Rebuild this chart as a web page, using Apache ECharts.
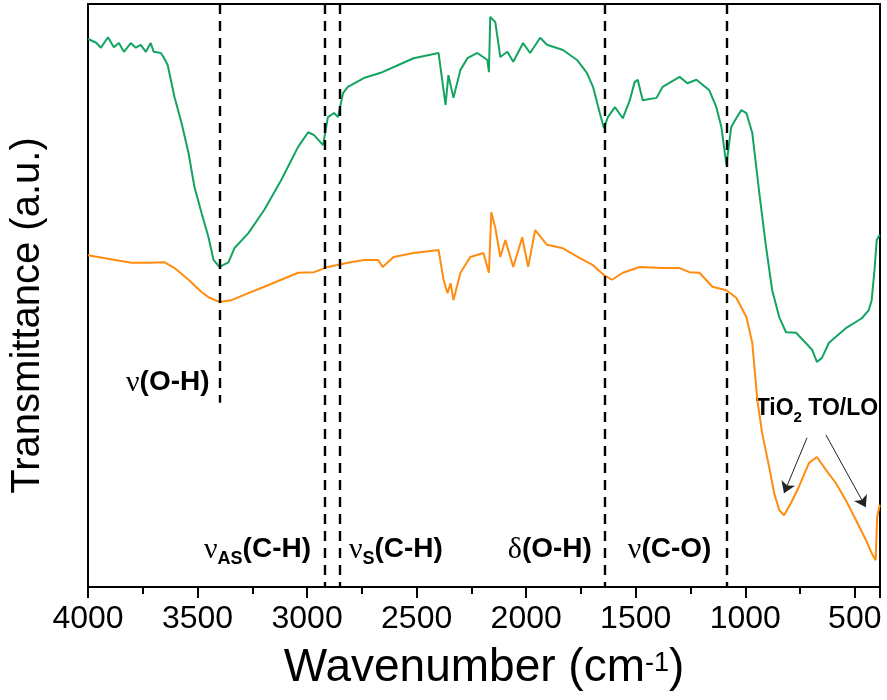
<!DOCTYPE html>
<html>
<head>
<meta charset="utf-8">
<title>FTIR</title>
<script src="https://cdn.jsdelivr.net/npm/echarts@6/dist/echarts.min.js"></script>
<style>
	html, body { margin: 0; padding: 0; background: #fff; }
	#chart { width: 887px; height: 700px; }
</style>
</head>
<body>
<div id="chart"></div>
<script>
// 녹색 스펙트럼 (wavenumber, transmittance a.u.)
let greenWn = [4000, 3995, 3964, 3941, 3909, 3882, 3859, 3836, 3805, 3782, 3759, 3736, 3714, 3700, 3668, 3655, 3636,
	3605, 3573, 3541, 3514, 3482, 3450, 3427, 3400, 3359, 3332, 3268, 3195, 3118, 3041, 2995, 2968, 2927, 2905,
	2877, 2859, 2836, 2814, 2741, 2664, 2586, 2514, 2400, 2368, 2355, 2332, 2300, 2268, 2223, 2177, 2170, 2164,
	2141, 2118, 2086, 2059, 2014, 1982, 1936, 1905, 1832, 1768, 1723, 1695, 1664, 1645, 1627, 1595, 1559, 1527,
	1505, 1491, 1468, 1405, 1377, 1300, 1264, 1223, 1164, 1132, 1109, 1086, 1064, 1041, 1018, 995, 968, 936,
	905, 877, 845, 814, 768, 695, 673, 650, 618, 541, 468, 436, 423, 410, 400, 386];
let greenT = [94.0, 93.9, 93.4, 92.5, 94.3, 92.6, 93.3, 91.8, 93.3, 92.5, 93.0, 91.8, 93.3, 91.8, 91.6, 90.9, 89.5,
	84.0, 79.6, 74.4, 68.6, 64.2, 60.0, 56.1, 54.9, 55.7, 58.1, 60.7, 64.7, 69.8, 75.5, 78.0, 77.5, 75.8, 80.6,
	81.3, 80.6, 84.7, 85.8, 87.3, 88.2, 89.5, 90.7, 91.6, 82.7, 87.8, 83.9, 88.7, 90.7, 91.6, 90.4, 88.3, 97.8,
	96.9, 90.9, 91.8, 90.1, 93.3, 91.6, 94.2, 93.0, 92.1, 90.4, 88.2, 85.8, 81.3, 78.7, 80.6, 82.3, 80.4, 83.5,
	86.6, 87.0, 83.5, 83.9, 85.8, 87.5, 86.4, 87.0, 85.2, 82.3, 78.9, 72.4, 78.9, 80.4, 81.8, 81.3, 77.9, 67.6,
	58.3, 50.9, 46.3, 43.7, 43.6, 40.7, 38.6, 39.3, 41.9, 44.4, 46.1, 47.5, 49.2, 54.4, 59.5, 60.4];

// 주황색 스펙트럼
let orangeWn = [4000, 3877, 3800, 3723, 3650, 3605, 3541, 3482, 3450, 3400, 3345, 3268, 3195, 3118, 3041, 2968,
	2905, 2814, 2741, 2677, 2655, 2605, 2514, 2400, 2377, 2359, 2345, 2332, 2300, 2255, 2195, 2170, 2159, 2141,
	2118, 2095, 2059, 2018, 1991, 1959, 1905, 1832, 1755, 1695, 1645, 1609, 1559, 1482, 1377, 1300, 1255, 1209,
	1150, 1086, 1041, 995, 968, 945, 923, 891, 868, 845, 823, 791, 755, 709, 673, 632, 586, 541, 495, 450, 423,
	405, 398, 386];
let orangeT = [56.9, 56.1, 55.6, 55.6, 55.7, 54.7, 52.7, 50.6, 49.7, 48.9, 49.2, 50.4, 51.5, 52.7, 53.9, 54.0,
	54.9, 55.6, 56.1, 56.1, 54.9, 56.6, 57.3, 57.8, 52.7, 50.4, 52.1, 49.2, 53.9, 56.6, 57.3, 53.9, 64.3, 61.6,
	56.6, 59.5, 54.9, 60.0, 54.9, 61.2, 58.7, 58.1, 56.4, 55.2, 53.5, 52.7, 53.9, 54.9, 54.7, 54.7, 54.0, 53.9,
	51.5, 50.9, 49.6, 46.3, 41.9, 32.1, 26.4, 20.6, 16.1, 13.2, 12.3, 14.4, 17.2, 21.3, 22.3, 20.1, 17.8, 14.9,
	11.5, 8.1, 5.8, 4.6, 12.0, 14.1];

// 점선 위치 (cm-1)
let peakWn = [3400, 2920, 2850, 1640, 1085];
let peakTop = [100, 100, 100, 100, 100];
let peakBottom = [31.6, 0, 0, 0, 0];

// 축 눈금 라벨
let tickList = [4000, 3500, 3000, 2500, 2000, 1500, 1000, 500];

// 밴드 이름 라벨 : [텍스트, wavenumber, 값, 정렬]
let bandText = ['{g|ν}{b|(O-H)}', '{g|ν}{s|AS}{b|(C-H)}', '{g|ν}{s|S}{b|(C-H)}', '{g|δ}{b|(O-H)}', '{g|ν}{b|(C-O)}', '{t|TiO}{ts|2}{t| TO/LO}'];
let bandWn = [3445, 2982, 2809, 1700, 1536, 673];
let bandT = [35.0, 6.3, 6.3, 6.3, 6.3, 30.4];
let bandAlign = ['right', 'right', 'left', 'right', 'left', 'center'];

// TiO2 화살표 [시작, 끝]
let arrowFrom = [[718, 25.6], [632, 26.1]];
let arrowTo = [[823, 16.1], [450, 13.7]];

let font = 'Liberation Sans, Arial, sans-serif';

let dashData = [];
for(let i = 0; i < peakWn.length; i++){
	dashData.push([{coord : [-peakWn[i], peakTop[i]]}, {coord : [-peakWn[i], peakBottom[i]]}]);
}
let arrowData = [];
for(let i = 0; i < arrowFrom.length; i++){
	arrowData.push([{coord : [-arrowFrom[i][0], arrowFrom[i][1]]}, {coord : [-arrowTo[i][0], arrowTo[i][1]]}]);
}

let richStyle = {
	g : {fontFamily : 'Liberation Serif, serif', fontSize : 30, lineHeight : 30, verticalAlign : 'top', color : '#111'},
	b : {fontFamily : font, fontWeight : 'bold', fontSize : 28, lineHeight : 30, verticalAlign : 'top', color : '#111'},
	s : {fontFamily : font, fontWeight : 'bold', fontSize : 18, lineHeight : 20, verticalAlign : 'top', padding : [15, 0, 0, 0], color : '#111'},
	t : {fontFamily : font, fontWeight : 'bold', fontSize : 23, lineHeight : 26, verticalAlign : 'top', color : '#111'},
	ts : {fontFamily : font, fontWeight : 'bold', fontSize : 15, lineHeight : 16, verticalAlign : 'top', padding : [14, 0, 0, 0], color : '#111'}
};

var myChart = echarts.init(document.getElementById('chart'));

var option = {
	animation : false,
	grid : {left : 86, right : 7, top : 4, bottom : 113, show : true, borderColor : '#000', borderWidth : 2},
	xAxis : {
		type : 'value',
		min : -4000,
		max : -385,
		interval : 500,
		name : '{n|Wavenumber (cm}{p|-1}{n|)}',
		nameLocation : 'middle',
		nameGap : 58,
		nameTextStyle : {
			rich : {
				n : {fontFamily : font, fontSize : 46, lineHeight : 48, verticalAlign : 'top', color : '#000'},
				p : {fontFamily : font, fontSize : 27, lineHeight : 27, verticalAlign : 'top', padding : [5, 0, 0, 0], color : '#000'}
			}
		},
		axisLine : {lineStyle : {color : '#000', width : 2}},
		axisTick : {length : 11, lineStyle : {color : '#000', width : 2}},
		minorTick : {show : true, splitNumber : 2, length : 7, lineStyle : {color : '#000', width : 2}},
		splitLine : {show : false},
		minorSplitLine : {show : false},
		axisLabel : {
			margin : 16,
			fontFamily : font,
			fontSize : 32,
			color : '#000',
			formatter : function(v){
				return tickList.indexOf(-v) >= 0 ? String(-v) : '';
			}
		}
	},
	yAxis : {
		type : 'value',
		min : 0,
		max : 100,
		name : 'Transmittance (a.u.)',
		nameLocation : 'middle',
		nameGap : 40,
		nameTextStyle : {fontFamily : font, fontSize : 40, color : '#000', padding : [0, 40, 0, 0]},
		axisLine : {show : true, lineStyle : {color : '#000', width : 2}},
		axisTick : {show : false},
		axisLabel : {show : false},
		splitLine : {show : false}
	},
	series : [
		{
			name : 'green',
			type : 'line',
			showSymbol : false,
			data : greenWn.map((w, i) => [-w, greenT[i]]),
			lineStyle : {color : '#13a461', width : 2},
			itemStyle : {color : '#13a461'},
			markLine : {
				silent : true,
				symbol : 'none',
				label : {show : false},
				lineStyle : {color : '#000', width : 2.4, type : [10, 7]},
				data : dashData
			}
		},
		{
			name : 'orange',
			type : 'line',
			showSymbol : false,
			data : orangeWn.map((w, i) => [-w, orangeT[i]]),
			lineStyle : {color : '#ff8c0f', width : 2},
			itemStyle : {color : '#ff8c0f'},
			markLine : {
				silent : true,
				symbol : ['none', 'arrow'],
				symbolSize : 11,
				label : {show : false},
				itemStyle : {color : '#222'},
				lineStyle : {color : '#222', width : 1, type : 'solid'},
				data : arrowData
			}
		}
	]
};
myChart.setOption(option);

// 밴드 라벨을 데이터 좌표로 배치
let labels = [];
for(let i = 0; i < bandText.length; i++){
	let p = myChart.convertToPixel({gridIndex : 0}, [-bandWn[i], bandT[i]]);
	labels.push({
		type : 'text',
		x : p[0],
		y : p[1],
		silent : true,
		style : {
			text : bandText[i],
			rich : richStyle,
			align : bandAlign[i],
			textAlign : bandAlign[i],
			verticalAlign : 'middle',
			textVerticalAlign : 'middle'
		}
	});
}
myChart.setOption({graphic : labels});
</script>
</body>
</html>
